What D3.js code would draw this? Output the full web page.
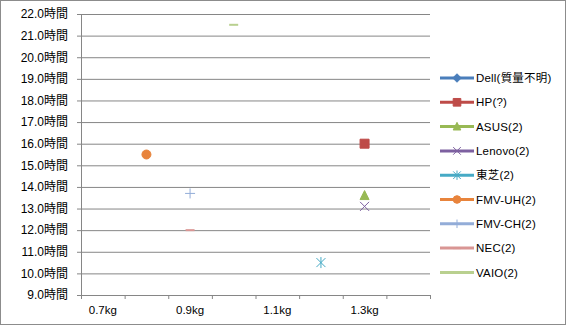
<!DOCTYPE html>
<html>
<head>
<meta charset="utf-8">
<script src="https://cdn.jsdelivr.net/npm/d3@7"></script>
<style>
body { margin: 0; background: #fff; }
text { font-family: "Liberation Sans", "Noto Sans CJK JP", sans-serif; }
</style>
</head>
<body>
<svg id="chart" width="566" height="325"></svg>
<script>
// weight categories on the x axis (every other one gets a label)
var categories = ["0.7kg", "0.8kg", "0.9kg", "1.0kg", "1.1kg", "1.2kg", "1.3kg", "1.4kg"];
var shownLabels = ["0.7kg", "0.9kg", "1.1kg", "1.3kg"];

// one series per maker, one point each
var seriesNames = ["Dell(質量不明)", "HP(?)", "ASUS(2)", "Lenovo(2)", "東芝(2)", "FMV-UH(2)", "FMV-CH(2)", "NEC(2)", "VAIO(2)"];
var seriesWeight = [null, "1.3kg", "1.3kg", "1.3kg", "1.2kg", "0.8kg", "0.9kg", "0.9kg", "1.0kg"];
var seriesHours = [null, 16.0, 13.6, 13.1, 10.5, 15.5, 13.7, 12.0, 21.5];

var hourTicks = [9, 10, 11, 12, 13, 14, 15, 16, 17, 18, 19, 20, 21, 22];

var colors = ["#4A7EBB", "#BE4B48", "#98B954", "#7D60A0", "#46AAC5", "#E8843C", "#93ADD8", "#D99694", "#B9D08F"];
var markers = ["diamond", "square", "triangle", "x", "asterisk", "circle", "plus", "dash", "dash"];

var svg = d3.select("#chart"),
    margin = {top: 14, right: 136, bottom: 30, left: 81},
    width = +svg.attr("width") - margin.left - margin.right,
    height = +svg.attr("height") - margin.top - margin.bottom;

// outer chart border
svg.append("rect")
    .attr("x", 0.5).attr("y", 0.5)
    .attr("width", 565).attr("height", 324)
    .attr("fill", "#fff")
    .attr("stroke", "#8c8c8c");

var g = svg.append("g").attr("transform", "translate(" + margin.left + "," + margin.top + ")");

var x = d3.scaleBand().domain(categories).range([0, width]).paddingInner(0).paddingOuter(0);
var xEdge = d3.scaleLinear().domain([0, categories.length]).range([0, width]);
var y = d3.scaleLinear().domain([9, 22]).range([height, 0]);

// gridlines
g.append("g")
    .attr("class", "grid")
    .call(d3.axisLeft(y).tickValues(hourTicks).tickSize(-width).tickFormat(""))
    .call(function(s) {
        s.select(".domain").remove();
        s.selectAll("line").attr("stroke", "#868686");
    });

// y axis
g.append("g")
    .attr("class", "y axis")
    .call(d3.axisLeft(y).tickValues(hourTicks).tickSizeInner(4).tickSizeOuter(0).tickPadding(9)
        .tickFormat(function(d) { return d3.format(".1f")(d) + "時間"; }))
    .call(function(s) {
        s.select(".domain").attr("stroke", "#868686");
        s.selectAll("line").attr("stroke", "#868686");
        s.selectAll("text").attr("font-size", 12).attr("fill", "#000")
            .attr("font-family", "'Liberation Sans', 'Noto Sans CJK JP', sans-serif");
    });

// x axis tick marks at category edges
g.append("g")
    .attr("transform", "translate(0," + height + ")")
    .call(d3.axisBottom(xEdge).tickValues(d3.range(categories.length + 1)).tickSizeInner(4).tickSizeOuter(0).tickFormat(""))
    .call(function(s) {
        s.select(".domain").attr("stroke", "#868686");
        s.selectAll("line").attr("stroke", "#868686");
    });

// x axis labels
g.append("g")
    .attr("transform", "translate(0," + height + ")")
    .call(d3.axisBottom(x).tickValues(shownLabels).tickSize(0).tickPadding(11))
    .call(function(s) {
        s.select(".domain").remove();
        s.selectAll("text").attr("font-size", 11.5).attr("fill", "#000")
            .attr("font-family", "'Liberation Sans', sans-serif");
    });

function markerPath(type) {
    switch (type) {
        case "diamond": return "M0,-5L5,0L0,5L-5,0Z";
        case "square": return "M-4.5,-4.5H4.5V4.5H-4.5Z";
        case "triangle": return "M0,-5L4.5,4L-4.5,4Z";
        case "circle": return "M4.5,0A4.5,4.5 0 1,1 -4.5,0A4.5,4.5 0 1,1 4.5,0Z";
        case "x": return "M-4.5,-4.5L4.5,4.5M4.5,-4.5L-4.5,4.5";
        case "asterisk": return "M-4.5,-4.5L4.5,4.5M4.5,-4.5L-4.5,4.5M0,-5.5V5.5";
        case "plus": return "M-5,0H5M0,-5V5";
        case "dash": return "M-4.5,0H4.5";
    }
}
function isStroke(type) { return type === "x" || type === "asterisk" || type === "plus" || type === "dash"; }

function drawMarker(sel, i) {
    var t = markers[i];
    sel.append("path")
        .attr("d", markerPath(t))
        .attr("fill", isStroke(t) ? "none" : colors[i])
        .attr("stroke", colors[i])
        .attr("stroke-width", t === "dash" ? 2 : 1)
        .attr("vector-effect", "non-scaling-stroke");
}

// points
var idx = d3.range(seriesNames.length).filter(function(i) { return seriesHours[i] != null; });
g.append("g").selectAll("g")
    .data(idx)
    .enter().append("g")
    .attr("transform", function(i) {
        return "translate(" + (x(seriesWeight[i]) + x.bandwidth() / 2) + "," + y(seriesHours[i]) + ")";
    })
    .each(function(i) { drawMarker(d3.select(this), i); });

// legend
var legend = svg.append("g")
    .attr("font-size", 11.5)
    .selectAll("g")
    .data(d3.range(seriesNames.length))
    .enter().append("g")
    .attr("transform", function(i) { return "translate(440," + (78 + i * 24.3) + ")"; });

legend.append("line")
    .attr("x1", 0).attr("x2", 34)
    .attr("stroke", function(i) { return colors[i]; })
    .attr("stroke-width", 3);

legend.append("g")
    .attr("transform", "translate(17,0) scale(0.85)")
    .each(function(i) { drawMarker(d3.select(this), i); });

legend.append("text")
    .attr("x", 36)
    .attr("dy", "0.36em")
    .attr("fill", "#000")
    .attr("letter-spacing", 0.2)
    .text(function(i) { return seriesNames[i]; });
</script>
</body>
</html>
